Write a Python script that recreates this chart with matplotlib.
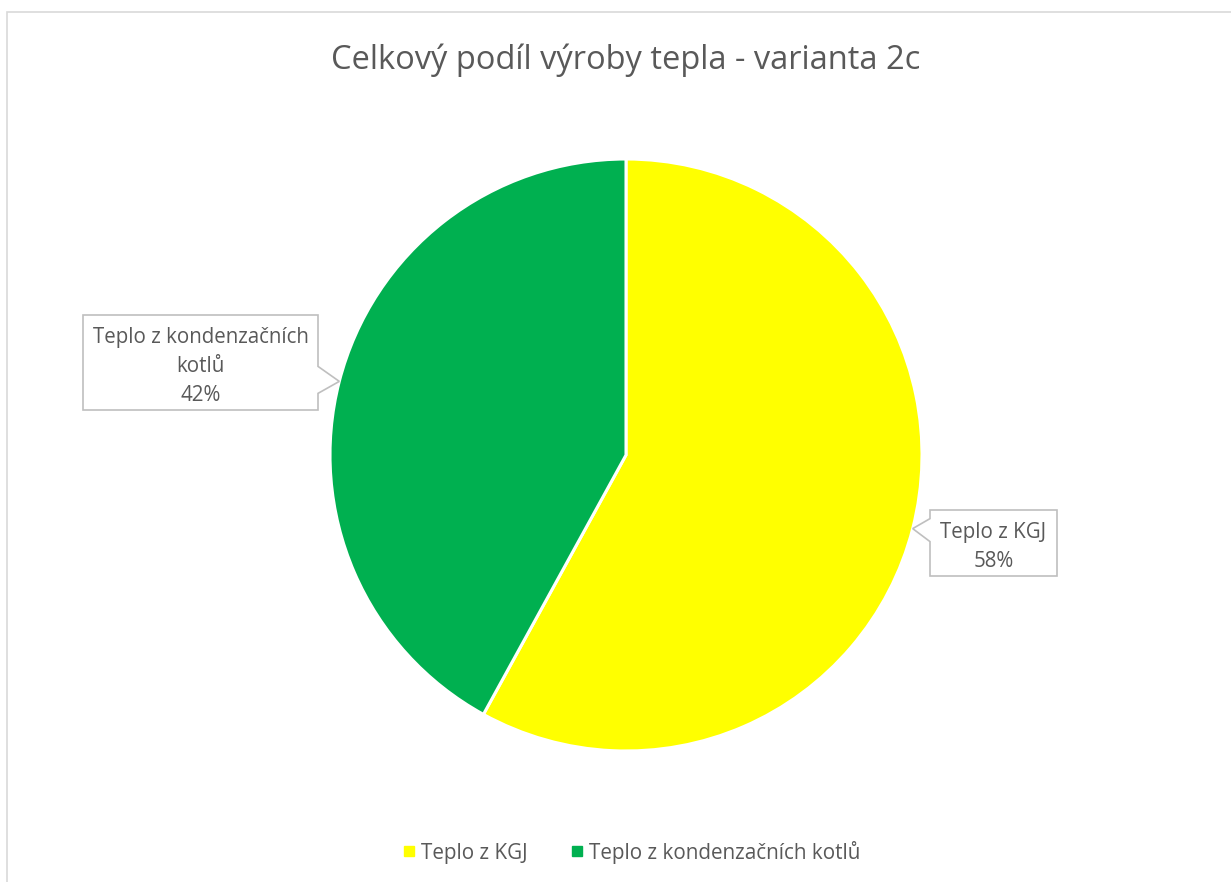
import numpy as np
import matplotlib
matplotlib.use("Agg")
import matplotlib.pyplot as plt
from matplotlib.patches import Polygon, Rectangle
from matplotlib.lines import Line2D

# data
labels = ["Teplo z KGJ", "Teplo z kondenzačních kotlů"]
box_labels = ["Teplo z KGJ", "Teplo z kondenzačních\nkotlů"]
shares = [58, 42]
colors = ["#ffff00", "#00b050"]
title = "Celkový podíl výroby tepla - varianta 2c"

W, H = 1231, 882
plt.rcParams['font.family'] = ['Open Sans', 'DejaVu Sans']
txt_col = "#595959"

fig = plt.figure(figsize=(W / 100, H / 100), dpi=100)


def px(x, y):
    # pixel position (from top-left) -> figure fraction
    return x / W, 1 - y / H


# chart area frame (right and bottom edges are cut off in the original)
fig.patches.append(Rectangle(px(7, 890), (W + 20) / W, (890 - 12) / H,
                             transform=fig.transFigure, fill=False,
                             edgecolor="#d9d9d9", lw=1.2))

cx, cy, r = 626, 455, 296
x0, y0 = px(cx - r, cy + r)
ax = fig.add_axes([x0, y0, 2 * r / W, 2 * r / H])
wedges, _ = ax.pie(shares, colors=colors, startangle=90, counterclock=False,
                   radius=1, wedgeprops=dict(edgecolor="white", linewidth=2.2))
ax.set_xlim(-1, 1)
ax.set_ylim(-1, 1)
ax.axis("off")

fig.text(*px(cx, 60), title, ha="center", va="center", fontsize=23.5, color=txt_col)

# callout boxes: (left, top, right, bottom) in px, notch side
boxes = [(930, 510, 1057, 576, "left"), (83, 315, 318, 410, "right")]
for w, sh, lab, (bl, bt, br, bb, side) in zip(wedges, shares, box_labels, boxes):
    ang = np.deg2rad((w.theta1 + w.theta2) / 2)
    tx, ty = cx + r * np.cos(ang), cy - r * np.sin(ang)
    if side == "left":
        pts = [(bl, bt), (br, bt), (br, bb), (bl, bb), (bl, ty + 13), (tx, ty), (bl, ty - 10)]
    else:
        pts = [(bl, bt), (br, bt), (br, ty - 15), (tx, ty), (br, ty + 12), (br, bb), (bl, bb)]
    fig.patches.append(Polygon([px(*p) for p in pts], closed=True, transform=fig.transFigure,
                               facecolor="white", edgecolor="#bfbfbf", lw=1.2, zorder=5))
    fig.text(*px((bl + br) / 2, (bt + bb) / 2 + 4), f"{lab}\n{sh}%", ha="center", va="center",
             fontsize=14.8, color=txt_col, linespacing=1.5, zorder=6)

handles = [Line2D([], [], marker="s", ls="", markersize=6.5, markerfacecolor=c,
                  markeredgecolor=c) for c in colors]
fig.legend(handles, labels, loc="center", bbox_to_anchor=px(631, 852), ncol=2,
           frameon=False, fontsize=14.9, labelcolor=txt_col, handletextpad=0.25,
           columnspacing=2.0, handlelength=0.7)

fig.savefig("out.png", dpi=100)
